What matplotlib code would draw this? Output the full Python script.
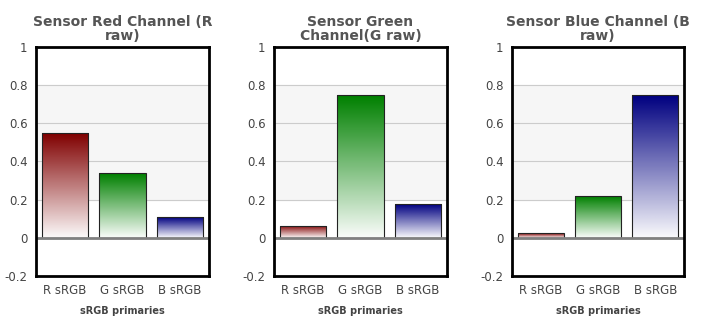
import numpy as np
import matplotlib
matplotlib.use("Agg")
import matplotlib.pyplot as plt
from matplotlib.colors import LinearSegmentedColormap

# data
titles = ["Sensor Red Channel (R\nraw)", "Sensor Green\nChannel(G raw)", "Sensor Blue Channel (B\nraw)"]
categories = ["R sRGB", "G sRGB", "B sRGB"]
red_channel = [0.548, 0.339, 0.108]
green_channel = [0.064, 0.747, 0.178]
blue_channel = [0.025, 0.218, 0.747]
bar_colors = ["#800000", "#008000", "#000080"]
yticks = [-0.2, 0, 0.2, 0.4, 0.6, 0.8, 1]
ytick_labels = ["-0.2", "0", "0.2", "0.4", "0.6", "0.8", "1"]
xlabel = "sRGB primaries"

W, H = 709, 328
fig = plt.figure(figsize=(W / 100, H / 100), dpi=100)

# axes frames in pixels (left, right, top, bottom)
frames = [(36, 209, 47, 276), (274, 447, 47, 276), (512, 684, 47, 276)]


def gradient_bar(ax, x, h, color, width=0.8):
    # bar outline, then a vertical gradient clipped to it
    bar = ax.bar(x, h, width=width, facecolor="none", edgecolor="#222222",
                 linewidth=0.8, zorder=4)[0]
    cmap = LinearSegmentedColormap.from_list("g", ["#ffffff", color])
    grad = np.linspace(0.02, 1, 256).reshape(-1, 1)
    im = ax.imshow(grad, cmap=cmap, vmin=0, vmax=1, origin="lower",
                   extent=[x - width / 2, x + width / 2, 0, h],
                   aspect="auto", zorder=3, interpolation="bilinear")
    im.set_clip_path(bar)


for i, values in enumerate([red_channel, green_channel, blue_channel]):
    l, r, t, b = frames[i]
    ax = fig.add_axes([l / W, 1 - b / H, (r - l) / W, (b - t) / H])
    ax.axhspan(0.2, 0.8, color="#f6f6f6", zorder=0)
    for y in [0.2, 0.4, 0.6, 0.8]:
        ax.axhline(y, color="#cccccc", linewidth=0.8, zorder=1)
    for j, v in enumerate(values):
        gradient_bar(ax, j, v, bar_colors[j])
    ax.axhline(0, color="#808080", linewidth=2, zorder=5)

    ax.set_xlim(-0.5, 2.5)
    ax.set_ylim(-0.2, 1)
    ax.set_yticks(yticks)
    ax.set_yticklabels(ytick_labels)
    ax.set_xticks(range(len(categories)))
    ax.set_xticklabels(categories)
    ax.tick_params(length=0, labelsize=8.5, colors="#444444", pad=6)
    for s in ax.spines.values():
        s.set_linewidth(2)
        s.set_color("black")
        s.set_zorder(6)
    ax.set_xlabel(xlabel, fontsize=7, fontweight="bold", color="#444444", labelpad=6)
    ax.set_title(titles[i], fontsize=10, fontweight="bold", color="#555555",
                 pad=5, linespacing=1.05)

fig.savefig("out.png", dpi=100)
